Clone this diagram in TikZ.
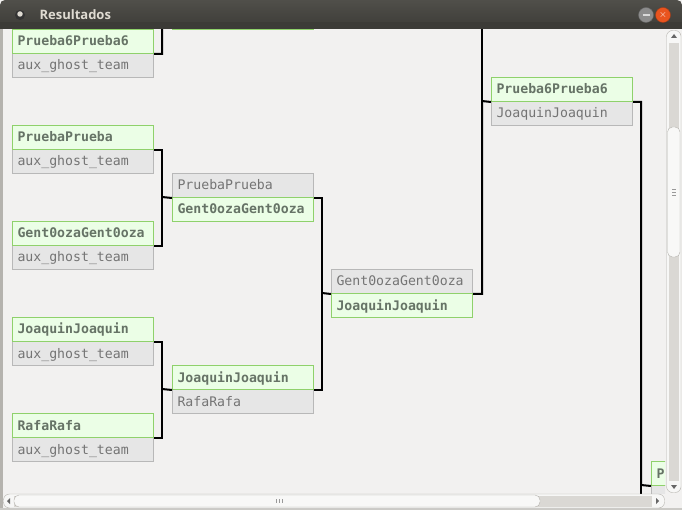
\documentclass[tikz,border=0pt]{standalone}
\usepackage{fontspec}
\setmonofont{DejaVu Sans Mono}
\newfontfamily\titlefont{Open Sans}
\definecolor{bgcol}{HTML}{F2F1F0}
\definecolor{titledark}{HTML}{3C3B37}
\definecolor{titletop}{HTML}{504F4A}
\definecolor{titletext}{HTML}{DFDBD2}
\definecolor{wingreen}{HTML}{8FD16B}
\definecolor{winfill}{HTML}{EBFEE6}
\definecolor{wintext}{HTML}{667366}
\definecolor{losedraw}{HTML}{B8B8B8}
\definecolor{losefill}{HTML}{E6E6E6}
\definecolor{losetext}{HTML}{747474}
\definecolor{framecol}{HTML}{B5B3AE}
\definecolor{troughcol}{HTML}{DAD8D4}
\definecolor{thumbcol}{HTML}{F8F8F7}
\definecolor{closeorange}{HTML}{E9541F}

\begin{document}
\begin{tikzpicture}[x=1pt,y=-1pt,
    winner/.style ={draw=wingreen, fill=winfill, text=wintext, line width=1pt,
      font=\ttfamily\bfseries\fontsize{13.2}{15}\selectfont,
      anchor=north west, text width=131pt, inner xsep=5pt, inner ysep=0pt,
      minimum height=24pt, text height=10.5pt, text depth=1.5pt},
    loser/.style ={winner, draw=losedraw, fill=losefill, text=losetext,
      font=\ttfamily\fontsize{13.2}{15}\selectfont},
    link/.style ={line width=2pt, black},
    bar/.style ={draw=framecol, fill=troughcol, rounded corners=6pt},
    tip/.style ={fill=black!60}]
   % window
   \fill[bgcol] (0,0) rectangle (682,510);
   \fill[framecol] (0,29) rectangle (3,510);
   \fill[framecol!70] (0,508) rectangle (682,510);

   \begin{scope}
   \clip (3,29) rectangle (665,493);
   % round 1
   \node[loser]  (m1b) at (12,53)  {aux\_ghost\_team};
   \node[winner] (m1t) at (12,29)  {Prueba6Prueba6};
   \node[loser]  (m2b) at (12,149) {aux\_ghost\_team};
   \node[winner] (m2t) at (12,125) {PruebaPrueba};
   \node[loser]  (m3b) at (12,245) {aux\_ghost\_team};
   \node[winner] (m3t) at (12,221) {Gent0ozaGent0oza};
   \node[loser]  (m4b) at (12,341) {aux\_ghost\_team};
   \node[winner] (m4t) at (12,317) {JoaquinJoaquin};
   \node[loser]  (m5b) at (12,437) {aux\_ghost\_team};
   \node[winner] (m5t) at (12,413) {RafaRafa};
   % round 2
   \node[loser]  (mAt) at (172,-19) {};
   \node[winner] (mAb) at (172,5)   {};
   \node[loser]  (mBt) at (172,173) {PruebaPrueba};
   \node[winner] (mBb) at (172,197) {Gent0ozaGent0oza};
   \node[loser]  (mCb) at (172,389) {RafaRafa};
   \node[winner] (mCt) at (172,365) {JoaquinJoaquin};
   % round 3
   \node[loser]  (mDt) at (331,269) {Gent0ozaGent0oza};
   \node[winner] (mDb) at (331,293) {JoaquinJoaquin};
   % round 4
   \node[loser]  (mEb) at (491,101) {JoaquinJoaquin};
   \node[winner] (mEt) at (491,77)  {Prueba6Prueba6};
   % round 5
   \node[loser]  (mFb) at (651,485) {};
   \node[winner] (mFt) at (651,461) {Prueba6Prueba6};

   \coordinate (j1) at (162,5);
   \coordinate (j2) at (162,197);
   \coordinate (j3) at (162,389);
   \coordinate (j4) at (322,293);
   \coordinate (j5) at (482,101);
   \coordinate (j5up) at (482,20);
   \coordinate (j6) at (641,485);
   \coordinate (j6down) at (641,500);
   \draw[link] (m1t.south east) -| (j1) -- (mAt.south west);
   \draw[link] (m2t.south east) -| (j2) |- (m3t.south east);
   \draw[link] (j2) -- (mBt.south west);
   \draw[link] (m4t.south east) -| (j3) |- (m5t.south east);
   \draw[link] (j3) -- (mCt.south west);
   \draw[link] (mBt.south east) -| (j4) |- (mCt.south east);
   \draw[link] (j4) -- (mDt.south west);
   \draw[link] (mDt.south east) -| (j5) -- (mEt.south west);
   \draw[link] (j5) -- (j5up);
   \draw[link] (mEt.south east) -| (j6) -- (mFt.south west);
   \draw[link] (j6) -- (j6down);
   \end{scope}

   % title bar
   \shade[top color=titletop, bottom color=titledark, rounded corners=5pt]
     (0,29) -- (0,0) -- (682,0) -- (682,29) -- cycle;
   \fill[titledark] (0,22) rectangle (682,29);
   \node[circle, fill=black!80, minimum size=10pt, inner sep=0pt] (wicon) at (20,15) {};
   \node[circle, fill=titletext, minimum size=5.5pt, inner sep=0pt] (wdot) at (20,14) {};
   \node[anchor=west, text=titletext, font=\titlefont\bfseries\fontsize{13}{15}\selectfont]
     (wtitle) at (36,14.5) {Resultados};
   \node[circle, fill=black!45, draw=black!60, minimum size=15pt, inner sep=0pt] (wmin) at (646,15) {};
   \draw[white!85!black, line width=1.5pt] ([xshift=-3.5pt]wmin.center) -- ([xshift=3.5pt]wmin.center);
   \node[circle, fill=closeorange, draw=closeorange!70!black, minimum size=15pt, inner sep=0pt,
     text=white, font=\sffamily\bfseries\fontsize{10}{10}\selectfont] (wclose) at (663,15) {$\times$};

   % scrollbars
   \draw[bar, fill=bgcol!60!white] (666.5,30.5) rectangle (681,492.5);
   \fill[troughcol] (668.5,43) rectangle (679,481);
   \draw[draw=framecol, fill=thumbcol, rounded corners=5pt] (667.5,127) rectangle (680,257);
   \foreach \g in {189,192,195}
     \draw[black!40, line width=0.6pt] (672,\g) -- (676,\g);
   \fill[tip] (671,38) -- (677,38) -- (674,34) -- cycle;
   \fill[tip] (671,485) -- (677,485) -- (674,489) -- cycle;
   \draw[bar, fill=bgcol!60!white] (3.5,494) rectangle (664.5,508);
   \fill[troughcol] (14,495.5) rectangle (652,506.5);
   \draw[draw=framecol, fill=thumbcol, rounded corners=5pt] (14,495) rectangle (540,507);
   \foreach \g in {276,279,282}
     \draw[black!40, line width=0.6pt] (\g,499) -- (\g,503);
   \fill[tip] (10,498) -- (10,504) -- (7,501) -- cycle;
   \fill[tip] (656,498) -- (656,504) -- (659,501) -- cycle;
 \end{tikzpicture}
\end{document}
